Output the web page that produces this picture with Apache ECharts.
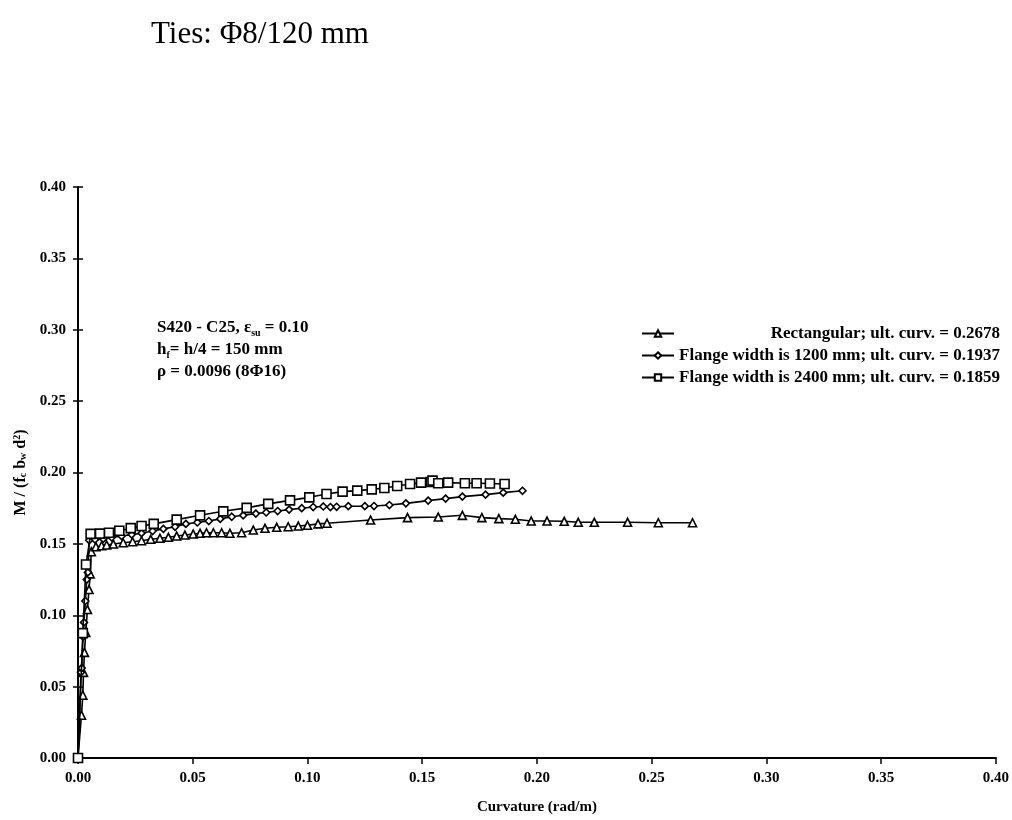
<!DOCTYPE html>
<html>
<head>
<meta charset="utf-8">
<script src="https://cdn.jsdelivr.net/npm/echarts@6/dist/echarts.min.js"></script>
<style>
  html, body { margin: 0; padding: 0; background: #ffffff; }
  #chart { width: 1012px; height: 820px; }
</style>
</head>
<body>
<div id="chart"></div>
<script>
// Moment-curvature curves, [curvature (rad/m), M / (fc bw d^2)]
const rectangular = [
  [0, 0], [0.0015, 0.030], [0.0021, 0.044], [0.0024, 0.060], [0.0028, 0.074],
  [0.0034, 0.088], [0.0041, 0.104], [0.0048, 0.118], [0.0053, 0.129], [0.0058, 0.1445],
  [0.0078, 0.148], [0.0103, 0.1487], [0.0125, 0.1492], [0.0154, 0.1499], [0.0197, 0.1508],
  [0.0238, 0.1515], [0.0277, 0.1522], [0.0317, 0.1532], [0.0357, 0.1539], [0.0394, 0.1546],
  [0.0430, 0.1555], [0.0466, 0.1562], [0.0502, 0.1569], [0.0532, 0.1574], [0.0560, 0.1578],
  [0.0590, 0.1578], [0.0626, 0.1578], [0.0662, 0.1574], [0.0713, 0.1578], [0.0764, 0.1597],
  [0.0815, 0.1609], [0.0866, 0.1616], [0.0916, 0.1620], [0.0960, 0.1625], [0.1000, 0.1630],
  [0.1046, 0.1640], [0.1085, 0.1645], [0.1275, 0.1667], [0.1436, 0.1684], [0.1570, 0.1688],
  [0.1675, 0.1700], [0.1760, 0.1684], [0.1834, 0.1677], [0.1906, 0.1672], [0.1975, 0.1660],
  [0.2044, 0.1660], [0.2119, 0.1658], [0.2180, 0.1651], [0.2250, 0.1651], [0.2395, 0.1651],
  [0.2529, 0.1648], [0.2678, 0.1648]
];
const flange1200 = [
  [0, 0], [0.0013, 0.060], [0.0016, 0.063], [0.0022, 0.085], [0.0026, 0.095],
  [0.0032, 0.110], [0.0038, 0.125], [0.0043, 0.130], [0.0049, 0.1525], [0.0074, 0.1530],
  [0.0110, 0.1535], [0.0147, 0.1545], [0.0190, 0.1555], [0.0234, 0.1565], [0.0277, 0.1575],
  [0.0325, 0.1590], [0.0372, 0.1605], [0.0423, 0.1620], [0.0470, 0.1640], [0.0520, 0.1650],
  [0.0570, 0.1660], [0.0620, 0.1675], [0.0670, 0.1690], [0.0720, 0.1700], [0.0775, 0.1712],
  [0.0820, 0.1720], [0.0870, 0.1730], [0.0920, 0.1740], [0.0975, 0.1750], [0.1025, 0.1758],
  [0.1069, 0.1762], [0.1100, 0.1758], [0.1127, 0.1760], [0.1178, 0.1764], [0.1250, 0.1764],
  [0.1290, 0.1765], [0.1357, 0.1772], [0.1429, 0.1784], [0.1526, 0.1803], [0.1602, 0.1817],
  [0.1675, 0.1831], [0.1776, 0.1845], [0.1853, 0.1859], [0.1937, 0.1872]
];
const flange2400 = [
  [0, 0], [0.0021, 0.0875], [0.0035, 0.1355], [0.0055, 0.1570], [0.0096, 0.1572],
  [0.0135, 0.1578], [0.0180, 0.1592], [0.0230, 0.1610], [0.0277, 0.1625], [0.0330, 0.1640],
  [0.0430, 0.1670], [0.0532, 0.1700], [0.0633, 0.1728], [0.0735, 0.1752], [0.0829, 0.1780],
  [0.0924, 0.1805], [0.1008, 0.1826], [0.1083, 0.1849], [0.1153, 0.1866], [0.1217, 0.1873],
  [0.1280, 0.1882], [0.1335, 0.1891], [0.1391, 0.1905], [0.1447, 0.1919], [0.1495, 0.1929],
  [0.1537, 0.1933], [0.1545, 0.1943], [0.1570, 0.1925], [0.1613, 0.1929], [0.1686, 0.1925],
  [0.1737, 0.1925], [0.1795, 0.1923], [0.1859, 0.1919]
];

const seriesNames = [
  'Rectangular; ult. curv. = 0.2678',
  'Flange width is 1200 mm; ult. curv. = 0.1937',
  'Flange width is 2400 mm; ult. curv. = 0.1859'
];
const seriesData = [rectangular, flange1200, flange2400];
const seriesSymbols = ['triangle', 'diamond', 'rect'];
const seriesSymbolSizes = [8, 7, 9];

const serif = '"Liberation Serif", "DejaVu Serif", serif';

const chart = echarts.init(document.getElementById('chart'), null, { renderer: 'canvas' });

const lineSeries = seriesData.map((data, i) => ({
  name: seriesNames[i],
  type: 'line',
  data: data,
  symbol: seriesSymbols[i],
  symbolSize: seriesSymbolSizes[i],
  showAllSymbol: true,
  clip: false,
  lineStyle: { color: '#000', width: 1.6 },
  itemStyle: { color: '#fff', borderColor: '#000', borderWidth: 1.6 },
  emphasis: { disabled: true },
  z: 3 + i
}));

const tickLabel = {
  fontFamily: serif, fontWeight: 'bold', fontSize: 15, color: '#000',
  formatter: v => v.toFixed(2)
};

chart.setOption({
  animation: false,
  backgroundColor: '#ffffff',
  grid: { left: 78, right: 16, top: 187, bottom: 62, containLabel: false },
  title: {
    text: 'Ties: Φ8/120 mm',
    left: 146, top: 14,
    textStyle: { fontFamily: serif, fontWeight: 'normal', fontSize: 31, color: '#000' }
  },
  legend: {
    orient: 'vertical',
    left: 636, top: 320,
    itemWidth: 32, itemHeight: 8, itemGap: 5,
    data: seriesNames,
    formatter: name => '{t|' + name + '}',
    textStyle: {
      fontFamily: serif, fontWeight: 'bold', fontSize: 17, color: '#000',
      rich: { t: { width: 321, align: 'right', fontFamily: serif, fontWeight: 'bold', fontSize: 17 } }
    }
  },
  xAxis: [{
    type: 'value', min: 0, max: 0.4, interval: 0.05,
    name: 'Curvature (rad/m)', nameLocation: 'middle', nameGap: 42,
    nameTextStyle: { fontFamily: serif, fontWeight: 'bold', fontSize: 15, color: '#000' },
    axisLine: { show: true, onZero: false, lineStyle: { color: '#000', width: 2 } },
    axisTick: { show: true, inside: false, length: 6, lineStyle: { color: '#000', width: 1.5 } },
    axisLabel: Object.assign({ margin: 13 }, tickLabel),
    splitLine: { show: false }
  }],
  yAxis: [{
    type: 'value', min: 0, max: 0.4, interval: 0.05,
    name: '{n|M / (f}{s|c}{n| b}{s|w}{n| d}{p|2}{n|)}',
    nameLocation: 'middle', nameGap: 36, nameRotate: 90,
    nameTextStyle: {
      color: '#000',
      rich: {
        n: { fontFamily: serif, fontWeight: 'bold', fontSize: 16, color: '#000' },
        s: { fontFamily: serif, fontWeight: 'bold', fontSize: 10, color: '#000', verticalAlign: 'bottom', padding: [6, 0, 0, 0] },
        p: { fontFamily: serif, fontWeight: 'bold', fontSize: 10, color: '#000', verticalAlign: 'top', padding: [0, 0, 6, 0] }
      }
    },
    axisLine: { show: true, onZero: false, lineStyle: { color: '#000', width: 2 } },
    axisTick: { show: true, inside: false, length: 5, lineStyle: { color: '#000', width: 1.5 } },
    axisLabel: Object.assign({ margin: 12 }, tickLabel),
    splitLine: { show: false }
  }, {
    // inner half of the crossing tick marks on the value axis
    type: 'value', min: 0, max: 0.4, interval: 0.05, position: 'left',
    axisLine: { show: false },
    axisTick: { show: true, inside: true, length: 5, lineStyle: { color: '#000', width: 1.5 } },
    axisLabel: { show: false },
    splitLine: { show: false }
  }],
  graphic: [{
    type: 'text', left: 157, top: 319,
    style: {
      text: '{n|S420 - C25, ε}{s|su}{n| = 0.10}\n{n|h}{s|f}{n|= h/4 = 150 mm}\n{n|ρ = 0.0096 (8Φ16)}',
      fill: '#000',
      rich: {
        n: { fontFamily: serif, fontWeight: 'bold', fontSize: 17, lineHeight: 22, fill: '#000' },
        s: { fontFamily: serif, fontWeight: 'bold', fontSize: 10, lineHeight: 22, fill: '#000', verticalAlign: 'bottom', padding: [5, 0, 0, 0] }
      }
    }
  }],
  series: lineSeries
});
</script>
</body>
</html>
